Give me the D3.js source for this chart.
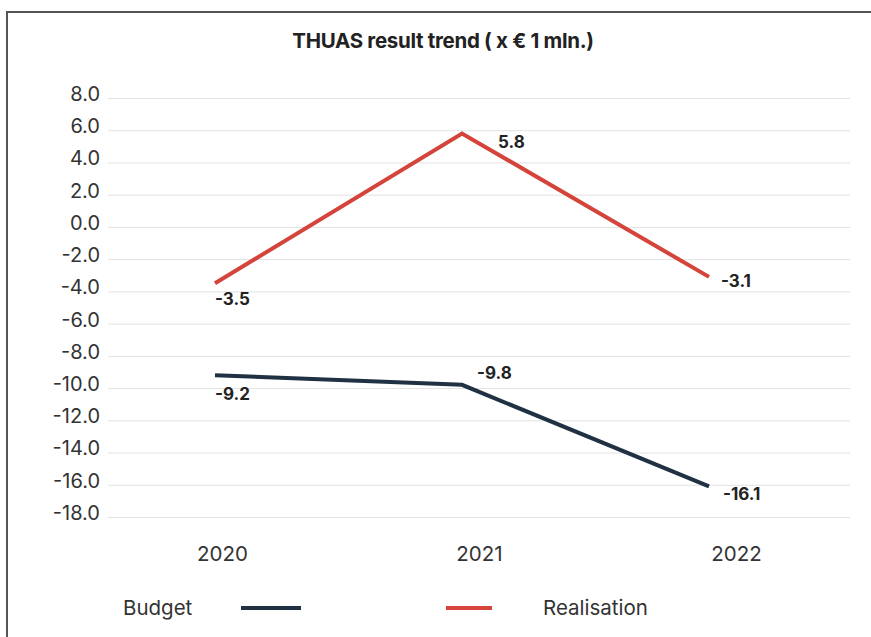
<!DOCTYPE html>
<html>
<head>
<meta charset="utf-8">
<script src="https://cdn.jsdelivr.net/npm/d3@7"></script>
<style>
  body { margin: 0; background: #fff; }
  svg { display: block; font-family: Inter, "Liberation Sans", Arial, sans-serif; }
</style>
</head>
<body>
<svg></svg>
<script>
const years = ['2020', '2021', '2022'];
const budget = [-9.2, -9.8, -16.1];
const realisation = [-3.5, 5.8, -3.1];
const yTicks = [8, 6, 4, 2, 0, -2, -4, -6, -8, -10, -12, -14, -16, -18];

const width = 871;
const height = 637;

const svg = d3.select('svg')
  .attr('width', width)
  .attr('height', height);

// frame
svg.append('path')
  .attr('d', `M7,${height} V12 H${width}`)
  .attr('fill', 'none')
  .attr('stroke', '#555')
  .attr('stroke-width', 2);

svg.append('text')
  .attr('x', 443)
  .attr('y', 42)
  .attr('text-anchor', 'middle')
  .attr('dominant-baseline', 'middle')
  .attr('font-size', 20.5)
  .attr('font-weight', 'bold')
  .attr('letter-spacing', '-0.3px')
  .attr('fill', '#222')
  .text('THUAS result trend ( x € 1 mln.)');

const yScale = d3.scaleLinear()
  .domain([-18, 8])
  .range([517, 98]);

// points on the lines
const xScale = d3.scalePoint()
  .domain(years)
  .range([215, 709]);

// category labels
const xLabel = d3.scalePoint()
  .domain(years)
  .range([222, 736]);

const yAxis = d3.axisLeft(yScale)
  .tickValues(yTicks)
  .tickFormat(d => d.toFixed(1))
  .tickSize(-742)
  .tickPadding(8);

const gy = svg.append('g')
  .attr('transform', 'translate(108,0)')
  .call(yAxis);
gy.select('.domain').remove();
gy.selectAll('.tick line').attr('stroke', '#e2e2e2');
gy.selectAll('.tick text')
  .attr('font-family', 'Inter, sans-serif')
  .attr('font-size', 20)
  .attr('fill', '#333')
  .attr('dy', '0.12em');

const xAxis = d3.axisBottom(xLabel).tickSize(0).tickPadding(0);
const gx = svg.append('g')
  .attr('transform', 'translate(0,546)')
  .call(xAxis);
gx.select('.domain').remove();
gx.selectAll('.tick text')
  .attr('font-family', 'Inter, sans-serif')
  .attr('font-size', 20.5)
  .attr('fill', '#333');

const series = [
  { name: 'Budget', values: budget, color: '#1f3142', offsets: [[0, 20], [15, -10], [14, 9]] },
  { name: 'Realisation', values: realisation, color: '#d4443b', offsets: [[0, 17], [36, 10], [12, 5]] }
];

const line = d3.line()
  .x((d, i) => xScale(years[i]))
  .y(d => yScale(d));

series.forEach(s => {
  svg.append('path')
    .datum(s.values)
    .attr('fill', 'none')
    .attr('stroke', s.color)
    .attr('stroke-width', 4)
    .attr('d', line);

  svg.selectAll(null)
    .data(s.values)
    .enter().append('text')
    .attr('x', (d, i) => xScale(years[i]) + s.offsets[i][0])
    .attr('y', (d, i) => yScale(d) + s.offsets[i][1])
    .attr('dominant-baseline', 'middle')
    .attr('font-size', 17)
    .attr('font-weight', 'bold')
    .attr('fill', '#222')
    .text(d => d.toFixed(1));
});

// legend
const legend = svg.append('g')
  .attr('font-size', 20.5)
  .attr('fill', '#333');
legend.append('text')
  .attr('x', 123).attr('y', 609)
  .attr('dominant-baseline', 'middle')
  .text('Budget');
legend.append('line')
  .attr('x1', 241).attr('x2', 301).attr('y1', 608).attr('y2', 608)
  .attr('stroke', series[0].color).attr('stroke-width', 4);
legend.append('line')
  .attr('x1', 446).attr('x2', 492).attr('y1', 608).attr('y2', 608)
  .attr('stroke', series[1].color).attr('stroke-width', 4);
legend.append('text')
  .attr('x', 543).attr('y', 609)
  .attr('dominant-baseline', 'middle')
  .text('Realisation');
</script>
</body>
</html>
